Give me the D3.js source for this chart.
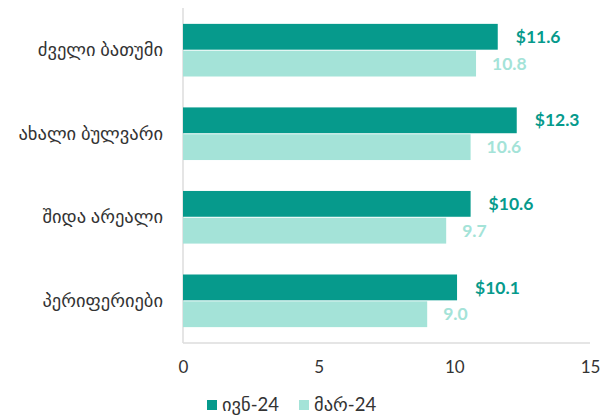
<!DOCTYPE html>
<html><head><meta charset="utf-8">
<script src="https://cdn.jsdelivr.net/npm/d3@7"></script>
<style>
body{margin:0;background:#fff;}
svg{display:block;}
text{font-family:Lato,"DejaVu Sans",sans-serif;}
</style></head>
<body><svg id="c" width="601" height="415"></svg>
<script>
const categories = ["ძველი ბათუმი","ახალი ბულვარი","შიდა არეალი","პერიფერიები"];
const seriesNames = ["ივნ-24","მარ-24"];
const jun24 = [11.6, 12.3, 10.6, 10.1];
const mar24 = [10.8, 10.6, 9.7, 9.0];
const xTicks = [0, 5, 10, 15];
const colors = ["#069a8c", "#a4e3d8"];

const svg = d3.select("#c");
const pLeft = 183, pRight = 590, pTop = 8, pBottom = 343;
const x = d3.scaleLinear().domain([0, 15]).range([pLeft, pRight]);
const y = d3.scaleBand().domain(categories).range([pTop, pBottom]).paddingInner(0.37).paddingOuter(0.19);
const bw = y.bandwidth();
const half = (bw - 1) / 2;

// axes lines
svg.append("line").attr("x1", pLeft).attr("x2", pLeft).attr("y1", pTop).attr("y2", pBottom).attr("stroke", "#dcdcdc").attr("stroke-width", 1.5);
svg.append("line").attr("x1", pLeft).attr("x2", pRight).attr("y1", pBottom).attr("y2", pBottom).attr("stroke", "#dcdcdc").attr("stroke-width", 1.5);

const xAxis = d3.axisBottom(x).tickValues(xTicks).tickSize(0).tickPadding(0).tickFormat(d3.format("d"));
const gx = svg.append("g").attr("transform", `translate(0,${pBottom + 18})`).call(xAxis);
gx.select(".domain").remove();
gx.selectAll("text").attr("font-size", 17).attr("fill", "#333").attr("dy", "0.71em").attr("font-family", "Lato, sans-serif");

const yAxis = d3.axisLeft(y).tickSize(0).tickPadding(0);
const gy = svg.append("g").attr("transform", `translate(${pLeft - 20},0)`).call(yAxis);
gy.select(".domain").remove();
gy.selectAll("text").attr("font-size", 18.5).attr("fill", "#333").attr("font-family", "DejaVu Sans, sans-serif");

const g = svg.append("g");
categories.forEach((c, i) => {
  const y0 = y(c);
  g.append("rect").attr("x", x(0)).attr("y", y0).attr("width", x(jun24[i]) - x(0)).attr("height", half).attr("fill", colors[0]);
  g.append("rect").attr("x", x(0)).attr("y", y0 + half + 1).attr("width", x(mar24[i]) - x(0)).attr("height", half).attr("fill", colors[1]);
  g.append("text").attr("x", x(jun24[i]) + 18).attr("y", y0 + half / 2).attr("dy", "0.35em")
    .attr("font-size", 17.5).attr("font-weight", "bold").attr("fill", colors[0]).text("$" + jun24[i].toFixed(1));
  g.append("text").attr("x", x(mar24[i]) + 16).attr("y", y0 + half + 1 + half / 2).attr("dy", "0.35em")
    .attr("font-size", 17.5).attr("font-weight", "bold").attr("fill", colors[1]).text(mar24[i].toFixed(1));
});

// legend
const leg = svg.append("g");
const legX = [207, 299];
seriesNames.forEach((s, i) => {
  leg.append("rect").attr("x", legX[i]).attr("y", 400).attr("width", 10).attr("height", 10).attr("fill", colors[i]);
  leg.append("text").attr("x", legX[i] + 15).attr("y", 405).attr("dy", "0.35em").attr("font-size", 18.5)
    .attr("fill", "#333").attr("font-family", "DejaVu Sans, sans-serif").text(s);
});
</script></body></html>
